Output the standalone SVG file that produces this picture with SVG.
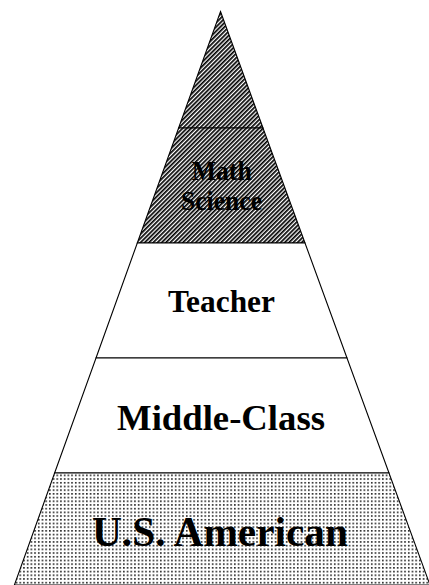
<svg xmlns="http://www.w3.org/2000/svg" width="429" height="585" viewBox="0 0 429 585">
  <defs>
    <pattern id="hatch" width="3" height="3" patternUnits="userSpaceOnUse" patternTransform="rotate(45)">
      <rect x="0" y="0" width="3" height="3" fill="#ffffff"/>
      <rect x="0" y="0" width="1.7" height="3" fill="#000000"/>
    </pattern>
    <pattern id="dots" width="3.7" height="3.7" patternUnits="userSpaceOnUse">
      <rect x="0" y="0" width="3.7" height="3.7" fill="#ffffff"/>
      <rect x="1" y="1" width="1.5" height="1.5" fill="#000000"/>
    </pattern>
    <style>
      .layer { stroke: #000000; stroke-width: 1.1; stroke-linejoin: miter; }
      .label { font-family: "Liberation Serif", "Times New Roman", serif; font-weight: bold; fill: #000000; text-anchor: middle; }
    </style>
  </defs>
  <rect x="0" y="0" width="429" height="585" fill="#ffffff"/>
  <g id="apex">
    <polygon class="layer" fill="url(#hatch)" points="220.5,11.5 263,128 178.6,128"/>
  </g>
  <g id="math-science">
    <polygon class="layer" fill="url(#hatch)" points="178.6,128 263,128 305,243 137.3,243"/>
    <text class="label" x="221.7" y="179.5" font-size="28" textLength="60" lengthAdjust="spacingAndGlyphs">Math</text>
    <text class="label" x="221.5" y="210" font-size="28" textLength="81" lengthAdjust="spacingAndGlyphs">Science</text>
  </g>
  <g id="teacher">
    <polygon class="layer" fill="#ffffff" points="137.3,243 305,243 347,358 96,358"/>
    <text class="label" x="221.5" y="311.5" font-size="31" textLength="107" lengthAdjust="spacingAndGlyphs">Teacher</text>
  </g>
  <g id="middle-class">
    <polygon class="layer" fill="#ffffff" points="96,358 347,358 389,473 54.6,473"/>
    <text class="label" x="221" y="430" font-size="35" textLength="208" lengthAdjust="spacingAndGlyphs">Middle-Class</text>
  </g>
  <g id="us-american">
    <polygon class="layer" fill="url(#dots)" points="54.6,473 389,473 430,585 14.4,585"/>
    <text class="label" x="220" y="546" font-size="42" textLength="256" lengthAdjust="spacingAndGlyphs">U.S. American</text>
  </g>
  <g id="connectors"></g>
</svg>
